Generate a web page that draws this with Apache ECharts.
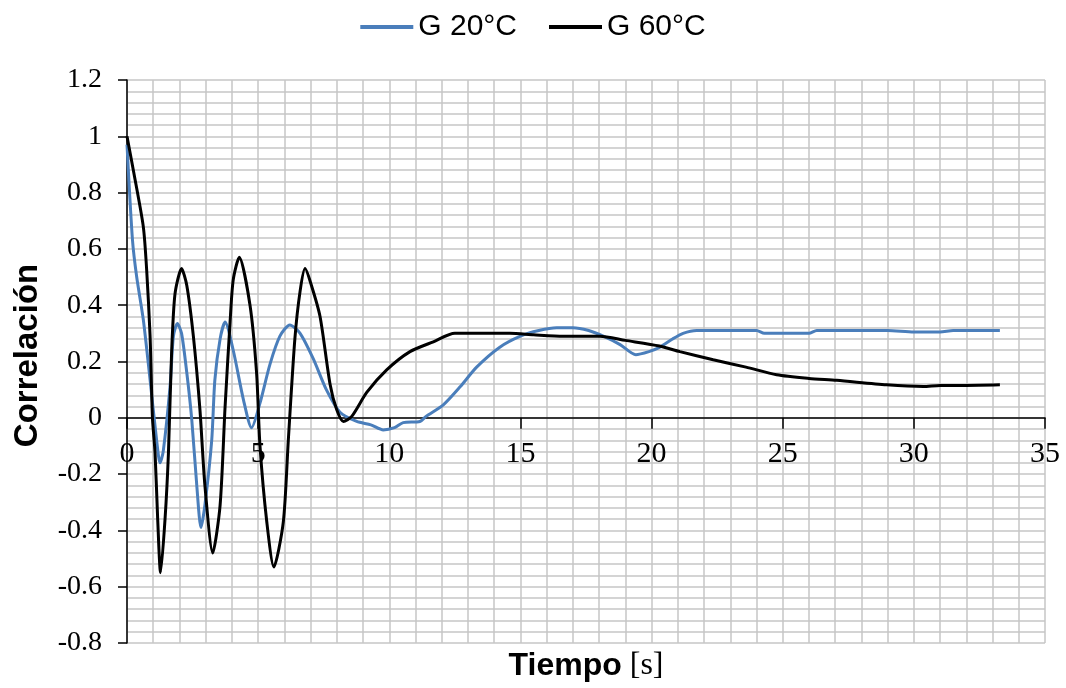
<!DOCTYPE html>
<html>
<head>
<meta charset="utf-8">
<script src="https://cdn.jsdelivr.net/npm/echarts@6/dist/echarts.min.js"></script>
<style>
  html, body { margin: 0; padding: 0; background: #fff; }
  #container { width: 1066px; height: 688px; }
</style>
</head>
<body>
<div id="container"></div>
<script>
// G 20°C (blue)
var t20 = [0, 0.21, 0.37, 0.62, 0.88, 1.13, 1.26, 1.38, 1.64, 1.77,
  1.92, 2.08, 2.28, 2.47, 2.66, 2.82, 2.97, 3.23, 3.35, 3.55,
  3.74, 4.05, 4.44, 4.75, 5.07, 5.45, 5.83, 6.21, 6.6, 7.1,
  7.6, 8.12, 8.76, 9.3, 9.77, 10.2, 10.53, 11.17, 11.4, 12.06,
  12.7, 13.33, 14.2, 15, 15.7, 16.38, 17.0, 17.6, 18.16, 18.8,
  19.4, 19.9, 20.3, 20.8, 21.2, 21.72, 22.2, 23, 24, 24.3,
  25, 26, 26.3, 27, 28, 29, 30, 31, 31.5, 32, 33.28];
var g20 = [0.97, 0.63, 0.50, 0.35, 0.135, -0.08, -0.16, -0.12, 0.11, 0.29,
  0.335, 0.30, 0.16, -0.007, -0.24, -0.39, -0.31, -0.08, 0.135, 0.28,
  0.34, 0.24, 0.064, -0.035, 0.052, 0.19, 0.29, 0.33, 0.30, 0.21,
  0.10, 0.02, -0.013, -0.025, -0.043, -0.035, -0.017, -0.013, 0.005, 0.046,
  0.11, 0.18, 0.25, 0.29, 0.31, 0.32, 0.32, 0.31, 0.29, 0.26,
  0.224, 0.235, 0.25, 0.28, 0.30, 0.31, 0.31, 0.31, 0.31, 0.30,
  0.30, 0.30, 0.31, 0.31, 0.31, 0.31, 0.305, 0.305, 0.31, 0.31, 0.31];

// G 60°C (black)
var t60 = [0, 0.24, 0.62, 0.75, 0.88, 0.97, 1.07, 1.17, 1.28, 1.45,
  1.58, 1.7, 1.83, 2.08, 2.28, 2.53, 2.78, 2.97, 3.27, 3.55,
  3.74, 3.93, 4.05, 4.28, 4.69, 4.94, 5.07, 5.33, 5.6, 5.96,
  6.15, 6.4, 6.6, 6.79, 7.0, 7.36, 7.74, 7.99, 8.25, 8.57,
  9.14, 9.9, 10.79, 11.68, 12.5, 13.5, 14.6, 15.5, 16.63, 18.03,
  19.0, 20.3, 21.08, 22.35, 23.6, 24.77, 26, 27.06, 28.96, 30.36,
  31, 32, 33.28];
var g60 = [1.0, 0.88, 0.68, 0.525, 0.29, 0.0, -0.125, -0.36, -0.55, -0.36,
  -0.125, 0.23, 0.44, 0.53, 0.47, 0.29, 0.03, -0.24, -0.48, -0.31,
  0.04, 0.34, 0.49, 0.57, 0.40, 0.16, -0.10, -0.37, -0.53, -0.37,
  -0.08, 0.28, 0.45, 0.53, 0.48, 0.36, 0.12, 0.03, -0.013, 0.005,
  0.09, 0.17, 0.235, 0.27, 0.30, 0.30, 0.30, 0.295, 0.29, 0.29,
  0.275, 0.255, 0.235, 0.206, 0.18, 0.153, 0.14, 0.133, 0.117, 0.111,
  0.115, 0.115, 0.117];

var seriesNames = ['G 20°C', 'G 60°C'];

function pairs(t, v) {
  return t.map(function (x, i) { return [x, v[i]]; });
}

var dom = document.getElementById('container');
var myChart = echarts.init(dom, null, { renderer: 'canvas' });

var gridColor = '#c6c6c6';
var serif = '"Liberation Serif", "Times New Roman", serif';
var sans = '"Liberation Sans", Arial, sans-serif';

var option = {
  animation: false,
  legend: {
    top: 7,
    left: 'center',
    icon: 'rect',
    itemWidth: 53,
    itemHeight: 4,
    itemGap: 32,
    textStyle: { fontFamily: sans, fontSize: 30, color: '#000' },
    data: seriesNames
  },
  grid: { left: 127, right: 21, top: 80, bottom: 45, outerBoundsMode: 'none', containLabel: false },
  xAxis: {
    type: 'value',
    min: 0,
    max: 35,
    interval: 5,
    name: '{b|Tiempo}{r| [s]}',
    nameLocation: 'middle',
    nameGap: 7,
    nameTextStyle: {
      rich: {
        b: { fontFamily: sans, fontWeight: 'bold', fontSize: 32, color: '#000' },
        r: { fontFamily: serif, fontSize: 32, color: '#000' }
      }
    },
    axisLine: { onZero: true, lineStyle: { color: '#000', width: 1.5 } },
    axisTick: { show: true, inside: false, length: 11, lineStyle: { color: '#000', width: 1.5 } },
    // labels sit under the zero line, not at the grid bottom
    axisLabel: { fontFamily: serif, fontSize: 30, color: '#000', margin: -204, showMinLabel: true, showMaxLabel: true },
    splitLine: { show: true, lineStyle: { color: gridColor, width: 1.5 } },
    minorTick: { show: false, splitNumber: 5 },
    minorSplitLine: { show: true, lineStyle: { color: gridColor, width: 1.5 } }
  },
  yAxis: {
    type: 'value',
    min: -0.8,
    max: 1.2,
    interval: 0.2,
    name: 'Correlación',
    nameLocation: 'middle',
    nameGap: 83,
    nameTextStyle: { fontFamily: sans, fontWeight: 'bold', fontSize: 33, color: '#000', padding: [0, 0, 0, 12] },
    axisLine: { show: true, onZero: false, lineStyle: { color: '#000', width: 1.5 } },
    axisTick: { show: true, inside: false, length: 9, lineStyle: { color: '#000', width: 1.5 } },
    axisLabel: {
      fontFamily: serif, fontSize: 28, color: '#000', margin: 25,
      formatter: function (v) { return String(Math.round(v * 10) / 10); }
    },
    splitLine: { show: true, lineStyle: { color: gridColor, width: 1.5 } },
    minorTick: { show: false, splitNumber: 5 },
    minorSplitLine: { show: true, lineStyle: { color: gridColor, width: 1.5 } }
  },
  series: [
    {
      name: seriesNames[0],
      type: 'line',
      data: pairs(t20, g20),
      symbol: 'none',
      smooth: 0.25,
      lineStyle: { color: '#4a7ebb', width: 3 },
      itemStyle: { color: '#4a7ebb' }
    },
    {
      name: seriesNames[1],
      type: 'line',
      data: pairs(t60, g60),
      symbol: 'none',
      smooth: 0.25,
      lineStyle: { color: '#000', width: 3 },
      itemStyle: { color: '#000' }
    }
  ]
};

myChart.setOption(option);
window.addEventListener('resize', myChart.resize);
</script>
</body>
</html>
